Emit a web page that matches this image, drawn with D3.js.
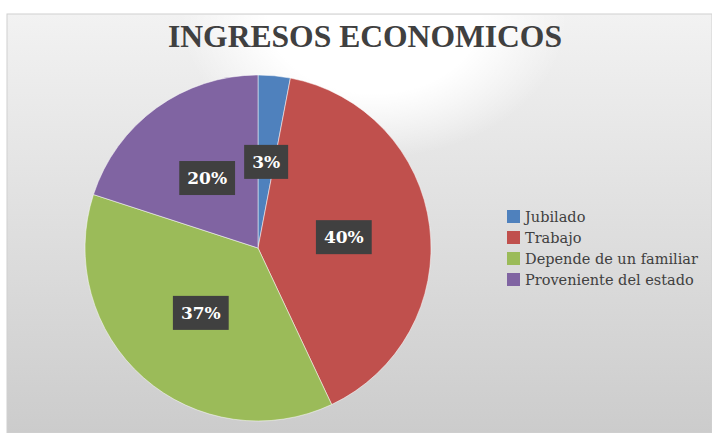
<!DOCTYPE html>
<html lang="es">
<head>
<meta charset="utf-8">
<title>Ingresos economicos</title>
<style>
  body { margin: 0; background: #ffffff; }
  svg { display: block; }
</style>
</head>
<body>
<script src="https://cdn.jsdelivr.net/npm/d3@7"></script>
<script>
  // data
  var categories = ["Jubilado", "Trabajo", "Depende de un familiar", "Proveniente del estado"];
  var values = [3, 40, 37, 20];
  var colors = ["#4f81bd", "#c0504d", "#9bbb59", "#8064a2"];

  var w = 712, h = 433;
  var cx = 258, cy = 248, radius = 173;

  var svg = d3.select("body").append("svg").attr("width", w).attr("height", h);

  // background: grey gradient with a white glow at the top
  var defs = svg.append("defs");
  var lg = defs.append("linearGradient").attr("id", "bg").attr("x1", 0).attr("y1", 0).attr("x2", 0).attr("y2", 1);
  lg.append("stop").attr("offset", "0%").attr("stop-color", "#f2f2f2");
  lg.append("stop").attr("offset", "100%").attr("stop-color", "#cccccc");
  var rg = defs.append("radialGradient").attr("id", "glow")
    .attr("cx", 0.52).attr("cy", 0.0).attr("r", 0.55)
    .attr("gradientTransform", "translate(0.26,0) scale(0.5,1)");
  rg.append("stop").attr("offset", "0%").attr("stop-color", "#ffffff").attr("stop-opacity", 1);
  rg.append("stop").attr("offset", "55%").attr("stop-color", "#ffffff").attr("stop-opacity", 1);
  rg.append("stop").attr("offset", "100%").attr("stop-color", "#ffffff").attr("stop-opacity", 0);

  svg.append("rect").attr("x", 7).attr("y", 14).attr("width", w - 7).attr("height", h - 14)
    .attr("fill", "url(#bg)").attr("stroke", "#d0d0d0").attr("stroke-width", 1);
  svg.append("rect").attr("x", 8).attr("y", 15).attr("width", w - 8).attr("height", 260)
    .attr("fill", "url(#glow)");

  // title
  svg.append("text").text("INGRESOS ECONOMICOS")
    .attr("x", 365).attr("y", 47)
    .attr("text-anchor", "middle")
    .attr("font-family", "Liberation Serif, serif")
    .attr("font-weight", "bold")
    .attr("font-size", 32)
    .attr("textLength", 394)
    .attr("lengthAdjust", "spacingAndGlyphs")
    .attr("fill", "#404040");

  // pie
  var pie = d3.pie().sort(null).value(function(d) { return d; });
  var arc = d3.arc().innerRadius(0).outerRadius(radius);
  var arcs = pie(values);

  var g = svg.append("g").attr("transform", "translate(" + cx + "," + cy + ")");
  g.selectAll("path")
    .data(arcs)
    .enter()
    .append("path")
    .attr("d", arc)
    .attr("fill", function(d, i) { return colors[i]; })
    .attr("stroke", "#ffffff")
    .attr("stroke-width", 0.5);

  // data labels in dark boxes
  var labels = g.selectAll("g.lbl")
    .data(arcs)
    .enter()
    .append("g")
    .attr("class", "lbl")
    .attr("transform", function(d) {
      var c = arc.centroid(d);
      return "translate(" + c[0] + "," + c[1] + ")";
    });

  labels.append("text")
    .text(function(d) { return d.data + "%"; })
    .attr("text-anchor", "middle")
    .attr("dy", "0.35em")
    .attr("font-family", "DejaVu Serif, serif")
    .attr("font-weight", "bold")
    .attr("font-size", 17)
    .attr("fill", "#ffffff");

  labels.each(function() {
    var t = d3.select(this).select("text");
    var b = t.node().getBBox();
    d3.select(this).insert("rect", "text")
      .attr("x", b.x - 8).attr("y", -17)
      .attr("width", b.width + 16).attr("height", 34)
      .attr("fill", "#404040");
  });

  // legend
  var legend = svg.append("g").attr("transform", "translate(507,210)");
  var rows = legend.selectAll("g")
    .data(categories)
    .enter()
    .append("g")
    .attr("transform", function(d, i) { return "translate(0," + (i * 21) + ")"; });
  rows.append("rect")
    .attr("width", 13).attr("height", 13)
    .attr("fill", function(d, i) { return colors[i]; });
  rows.append("text")
    .text(function(d) { return d; })
    .attr("x", 18).attr("y", 12)
    .attr("font-family", "DejaVu Serif, serif")
    .attr("font-size", 14.5)
    .attr("fill", "#404040");
</script>
</body>
</html>
